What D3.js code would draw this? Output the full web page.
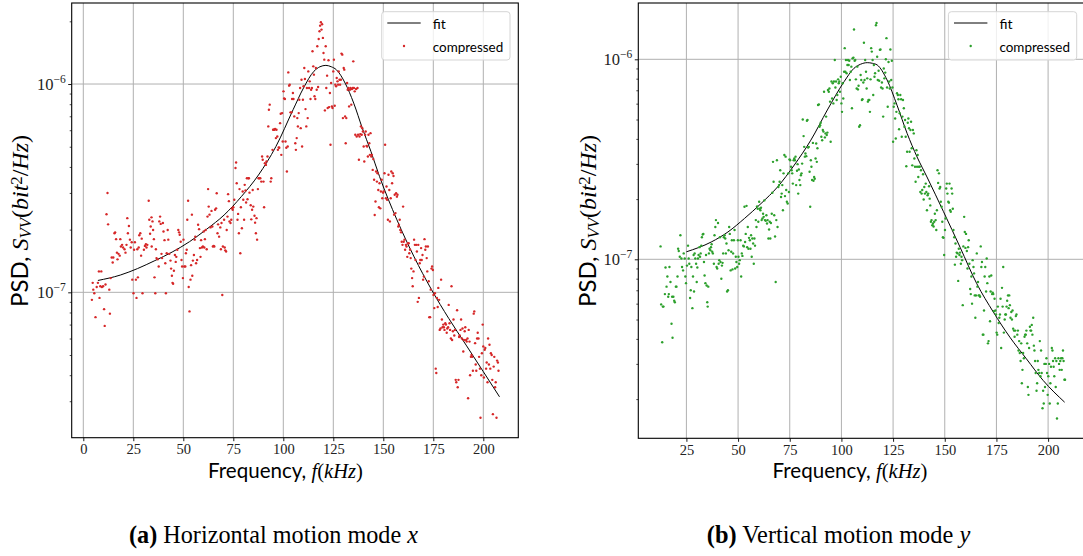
<!DOCTYPE html>
<html><head><meta charset="utf-8">
<script src="https://cdn.jsdelivr.net/npm/d3@7"></script>
<style>body{margin:0;background:#fff}svg{display:block}</style>
</head><body>
<svg id="c" width="1083" height="556"></svg>
<script>
// ---------- DATA (frequency in kHz, PSD in units of 1e-7 bit^2/Hz) ----------
const horizCompressed = [
[4.3,0.92],[4.7,1.11],[5.0,1.03],[5.5,0.99],[6.1,0.76],[6.7,1.06],[7.3,1.11],[7.8,1.26],[8.1,0.94],[8.5,1.07],[9.0,1.26],[9.3,1.06],[9.9,1.07],[10.4,0.83],[10.7,0.69],[11.1,1.09],[11.6,2.37],[12.1,3.00],[12.4,2.12],[13.0,1.03],[13.3,0.79],[13.7,1.17],[14.2,1.47],[14.7,1.39],[15.0,1.47],[15.6,1.92],[15.9,1.94],[16.4,1.80],[16.8,1.55],[17.1,1.44],[17.6,1.53],[18.2,1.50],[18.5,1.80],[18.8,1.66],[19.4,1.69],[19.9,1.64],[20.6,1.61],[21.1,1.55],[21.6,1.69],[22.0,2.27],[22.3,1.92],[22.8,2.08],[23.3,1.79],[23.7,1.64],[24.2,1.74],[24.5,1.15],[25.1,0.99],[25.4,1.60],[25.8,1.74],[26.3,1.15],[26.6,0.94],[27.0,1.61],[27.3,1.18],[27.7,1.64],[28.0,1.88],[28.5,1.92],[28.9,1.50],[29.2,1.81],[29.6,0.99],[30.3,1.60],[30.8,1.67],[31.3,1.70],[31.6,1.64],[32.0,1.69],[32.7,2.75],[33.0,2.23],[33.4,1.91],[33.7,2.07],[34.1,2.29],[34.2,1.66],[34.6,2.19],[34.9,1.99],[35.3,1.80],[35.6,1.18],[36.0,0.99],[36.3,1.61],[36.6,1.46],[37.2,1.44],[37.7,1.33],[38.0,2.19],[38.4,2.31],[38.7,2.13],[39.1,1.53],[39.4,1.46],[39.8,2.15],[40.1,1.96],
[40.6,1.78],[41.0,1.38],[41.3,0.99],[41.7,1.54],[42.2,1.99],[42.5,1.79],[43.0,1.53],[43.6,1.42],[43.9,1.30],[44.3,1.20],[44.6,1.11],[44.9,1.10],[45.3,1.27],[45.8,1.51],[46.2,1.40],[46.5,1.48],[47.0,1.60],[47.5,1.99],[47.9,1.94],[48.2,1.89],[48.7,1.75],[49.1,1.43],[49.4,1.33],[49.8,1.17],[50.1,1.79],[50.5,1.33],[51.0,1.33],[51.3,1.54],[51.7,1.60],[52.0,2.23],[52.4,2.75],[52.7,1.06],[53.1,0.81],[53.6,1.15],[53.9,1.35],[54.3,2.36],[54.5,1.20],[54.8,1.42],[55.3,1.51],[55.7,1.79],[56.0,1.85],[56.4,1.38],[56.9,1.43],[57.4,2.11],[57.9,2.01],[58.3,1.63],[58.6,1.48],[58.9,1.78],[59.3,1.64],[59.8,1.66],[60.2,1.96],[60.5,1.64],[60.8,1.80],[61.2,1.99],[61.7,1.61],
[62.1,2.31],[62.4,3.13],[62.7,2.58],[63.1,2.36],[63.6,2.05],[64.1,2.46],[64.5,2.07],[64.8,1.66],[65.2,1.67],[65.5,1.66],[65.9,2.49],[66.4,2.53],[66.7,2.99],[67.1,1.92],[67.4,2.12],[67.9,1.85],[68.5,2.05],[68.8,1.61],[69.1,2.15],[69.5,0.97],[69.8,1.66],[70.4,2.23],[70.7,1.64],[71.0,1.59],[71.4,1.57],[71.7,1.99],[72.1,2.31],[72.4,2.96],[72.8,2.74],[73.1,2.19],[73.6,2.15],[74.0,2.23],[74.3,2.53],[74.7,2.49],[75.0,2.56],[75.5,2.78],[76.1,3.95],[76.4,4.20],[76.7,3.34],[77.1,2.23],[77.4,2.38],[77.8,1.92],[78.1,3.13],[78.5,1.54],[78.8,2.56],
[79.3,2.03],[79.7,3.05],[80.0,2.78],[80.4,2.23],[80.7,3.28],[81.1,3.08],[81.4,2.70],[81.8,3.53],[82.1,2.80],[82.5,3.53],[82.8,3.53],[83.1,3.01],[83.7,2.62],[84.0,2.24],[84.4,2.49],[84.7,3.10],[85.0,2.58],[85.6,2.33],[85.9,2.16],[86.3,1.92],[86.6,2.27],[86.9,1.79],[87.3,3.13],[87.6,3.53],[88.0,3.53],[88.5,3.53],[89.0,3.40],[89.4,4.49],[89.7,4.33],[90.1,3.40],[90.4,2.56],[90.8,4.17],[91.3,4.09],[91.6,4.25],[92.1,4.49],[92.5,6.26],[92.8,7.53],[93.2,7.96],[93.7,3.40],[94.0,3.53],[94.6,4.83],[94.9,6.03],[95.2,6.03],[95.6,6.03],[95.9,6.08],[96.3,5.50],
[96.6,6.03],[97.0,5.60],[97.3,4.83],[97.7,4.96],[98.0,4.94],[98.4,6.49],[98.7,7.20],[99.0,4.57],[99.4,7.25],[99.7,5.30],[100.1,9.22],[100.4,8.53],[100.8,8.47],[101.1,5.30],[101.5,4.94],[101.8,3.80],[102.2,5.01],[102.5,11.37],[102.9,9.82],[103.2,9.92],[103.6,7.31],[104.1,7.31],[104.4,8.47],[104.8,9.05],[105.1,8.47],[105.5,6.99],[106.0,5.20],[106.3,4.83],[106.7,5.50],[107.0,6.86],[107.3,6.26],[107.7,7.25],[108.0,8.41],[108.4,9.57],[108.7,6.14],[109.1,10.49],[109.4,5.01],[109.8,8.41],[110.1,9.75],[110.5,11.94],[110.8,10.57],[111.1,7.58],[111.5,6.26],[111.8,9.57],[112.2,6.86],[112.5,11.50],[112.9,9.57],[113.2,10.30],[113.6,8.47],
[113.9,9.39],[114.3,9.57],[114.6,14.36],[115.0,12.16],[115.3,11.09],[115.6,8.73],[116.0,8.47],[116.3,11.94],[116.7,9.39],[117.0,15.18],[117.4,9.67],[117.7,16.46],[118.1,17.92],[118.4,19.07],[118.8,19.80],[119.1,18.25],[119.4,19.36],[119.8,16.65],[120.1,14.09],[120.5,13.09],[120.8,7.47],[121.2,15.18],[121.5,9.57],[121.9,10.97],[122.2,7.67],[122.6,13.00],[122.9,7.75],[123.3,9.05],[123.6,5.11],[123.9,10.11],[124.3,7.81],[124.6,7.67],[125.0,11.50],[125.3,13.09],[125.7,7.87],[126.0,9.93],[126.4,9.75],[126.7,10.69],[127.1,10.30],[127.4,9.93],[127.7,11.50],[128.1,10.49],[128.4,9.93],[128.8,10.49],[129.1,14.0],[129.5,13.84],[129.8,6.86],[130.2,11.94],[130.5,11.72],[130.9,6.99],
[131.2,5.20],[131.5,6.86],[131.9,10.11],[132.2,9.39],[132.6,9.57],[132.9,7.81],[133.3,9.39],[133.6,9.57],[134.0,7.96],[134.3,9.46],[134.7,9.57],[135.0,12.85],[135.3,9.57],[135.7,9.22],[136.0,5.71],[136.4,9.46],[136.7,5.60],[137.1,9.57],[137.4,5.71],[137.8,4.33],[138.1,5.60],[138.5,5.75],[138.8,6.26],[139.2,5.71],[139.5,6.14],[139.8,5.92],[140.2,5.01],[140.5,4.25],[140.9,5.71],[141.2,5.92],[141.6,5.05],[141.9,5.01],[142.3,4.49],[142.6,5.71],[143.0,5.20],[143.3,4.57],[143.6,5.81],[144.0,4.49],[144.3,4.57],[144.7,3.87],[145.0,4.36],[145.4,3.47],[145.7,2.35],[146.1,2.73],[146.4,3.80],[146.8,3.40],[147.1,3.73],[147.5,3.10],[147.8,2.56],[148.1,3.34],
[148.5,2.53],[148.8,3.05],[149.2,3.47],[149.5,2.83],[149.9,3.01],[150.2,3.05],[150.6,3.73],[150.9,5.11],[151.3,2.83],[151.6,3.22],[151.9,2.78],[152.3,2.23],[152.6,3.67],[153.0,3.10],[153.3,2.19],[153.7,2.83],[154.0,3.80],[154.4,3.34],[154.7,3.73],[155.1,3.62],[155.4,2.36],[155.7,2.94],[156.1,2.40],[156.4,2.99],[156.8,2.88],[157.1,2.94],[157.5,2.07],[157.8,2.11],[158.2,2.23],[158.5,1.99],[158.9,1.94],[159.2,1.75],[159.6,1.69],[159.9,2.58],[160.2,1.75],[160.6,1.79],[160.9,1.60],[161.3,1.69],[161.6,1.66],[162.0,1.48],[162.3,1.72],[162.7,1.72],[163.0,1.54],[163.4,1.60],[163.7,1.46],[164.0,1.30],[164.4,1.17],[164.7,1.07],[165.1,1.26],[165.4,1.79],
[165.8,1.69],[166.1,1.43],[166.5,1.69],[166.8,1.57],[167.2,0.90],[167.5,1.69],[167.8,0.94],[168.2,1.38],[168.5,1.43],[168.9,1.63],[169.2,1.43],[169.6,1.51],[169.9,1.15],[170.3,1.19],[170.6,1.80],[171.0,1.60],[171.3,1.66],[171.7,1.46],[172.0,1.26],[172.3,1.66],[172.7,1.13],[173.0,0.76],[173.4,0.76],[173.7,1.03],[174.1,1.30],[174.4,1.33],[174.8,1.28],[175.1,0.97],[175.5,0.84],[175.8,0.99],[176.2,0.43],[176.5,0.41],[176.8,0.94],[177.2,0.85],[177.5,1.05],[177.9,0.92],[178.2,0.66],[178.6,0.67],[178.9,1.15],[179.3,0.74],[179.6,0.68],[180.0,0.70],[180.3,0.68],[180.6,0.66],[181.0,0.71],[181.3,0.70],[181.7,0.64],[182.0,0.67],[182.4,0.68],[182.7,0.87],
[183.1,0.71],[183.4,0.66],[183.8,0.60],[184.1,1.07],[184.4,0.59],[184.8,0.65],[185.1,0.74],[185.5,0.62],[185.8,0.66],[186.2,0.38],[186.5,0.37],[186.9,0.82],[187.2,0.35],[187.6,0.38],[187.9,0.61],[188.2,0.62],[188.6,0.66],[188.9,0.74],[189.3,0.60],[189.6,0.67],[190.0,0.52],[190.3,0.59],[190.7,0.65],[191.0,0.68],[191.4,0.59],[191.7,0.58],[192.1,0.60],[192.4,0.31],[192.7,0.66],[193.1,0.58],[193.4,0.40],[193.8,0.49],[194.1,0.50],[194.5,0.49],[194.8,0.42],[195.2,0.79],[195.5,0.81],[195.9,0.57],[196.2,0.45],[196.5,0.42],[196.9,0.60],[197.2,0.64],[197.6,0.60],[197.9,0.49],[198.3,0.43],[198.6,0.25],[199.0,0.40],[199.3,0.51],[199.7,0.70],[200.0,0.55],
[200.3,0.39],[200.7,0.53],[201.0,0.54],[201.4,0.43],[201.7,0.46],[202.1,0.37],[202.4,0.60],[202.8,0.45],[203.1,0.56],[203.5,0.43],[203.8,0.51],[204.2,0.50],[204.5,0.38],[204.8,0.26],[205.2,0.44],[205.5,0.49],[205.9,0.35],[206.2,0.37],[206.6,0.25],[206.9,0.47],[207.3,0.46],[207.6,0.42]
];
const horizFit = [
[7.3,1.14],[18.5,1.21],[27.1,1.30],[35.8,1.42],[44.4,1.56],[53.1,1.75],[61.7,2.01],[70.4,2.35],[79.0,2.88],[87.6,3.66],[96.3,5.01],[104.9,7.53],[110.1,9.57],[115.3,11.51],[118.3,12.1],[121.3,12.29],[124.0,12.1],[126.5,11.72],[130.9,10.11],[135.2,8.10],[139.5,6.14],[143.8,4.75],[148.1,3.60],[156.8,2.23],[165.4,1.48],[174.1,1.03],[182.7,0.75],[191.4,0.558],[200.0,0.416],[208.1,0.315]
];
const vertCompressed = [
[12.5,1.16],[12.8,0.595],[13.3,0.385],[13.6,0.58],[13.9,0.58],[14.6,0.67],[14.9,0.91],[15.4,0.73],[15.8,0.82],[16.2,0.65],[16.5,0.67],[16.8,0.915],[17.3,0.77],[17.8,0.476],[18.1,0.65],[18.3,0.405],[18.7,0.65],[19.1,0.62],[19.4,0.61],[19.9,0.73],[20.2,0.73],[20.7,0.82],[21.0,1.13],[21.3,1.10],[21.8,1.03],[22.1,1.32],[22.6,1.01],[22.9,0.915],[23.4,0.88],[23.7,1.07],[24.2,1.01],[24.5,0.82],[24.8,0.76],[25.3,0.93],[25.8,1.17],[26.1,1.01],[26.4,0.95],[26.8,0.64],[27.1,0.70],[27.4,0.915],[27.9,0.57],[28.2,0.82],[28.5,1.05],[28.7,0.69],[29.0,1.07],[29.3,1.01],
[29.7,0.95],[30.0,0.77],[30.3,0.91],[30.6,1.01],[30.9,1.05],[31.3,1.15],[31.6,1.03],[31.9,1.07],[32.2,1.17],[32.5,1.29],[32.9,1.33],[33.2,1.34],[33.5,0.97],[33.8,0.83],[34.2,0.76],[34.5,1.05],[34.8,0.74],[35.1,0.61],[35.3,0.58],[35.6,0.73],[35.9,1.07],[36.2,1.13],[36.6,1.11],[36.9,1.15],[37.2,1.19],[37.5,1.09],[37.8,1.07],[38.3,0.95],[38.6,1.32],[39.0,1.45],[39.3,1.57],[39.6,0.915],[39.9,0.90],[40.3,1.52],[40.6,0.95],[40.9,0.99],[41.2,1.29],[41.5,0.97],[41.9,0.80],[42.2,0.93],[42.5,0.96],[42.8,1.07],[43.1,1.29],[43.5,1.32],[43.8,1.27],[44.1,1.07],[44.4,1.20],[44.7,0.69],[45.1,0.70],[45.4,1.11],
[45.7,1.45],[46.0,1.34],[46.4,0.88],[46.7,1.09],[47.0,1.245],[47.3,0.89],[47.6,1.07],[48.0,1.245],[48.3,1.40],[48.6,0.90],[48.9,1.03],[49.2,0.97],[49.6,0.915],[49.9,1.245],[50.2,1.03],[50.5,0.95],[50.8,0.99],[51.2,1.245],[51.5,0.82],[51.8,1.07],[52.1,1.04],[52.5,1.17],[52.8,1.16],[53.1,1.83],[53.4,1.22],[53.7,1.34],[54.1,1.85],[54.4,1.15],[54.7,1.45],[55.0,1.13],[55.3,1.28],[55.7,1.245],[56.0,1.13],[56.3,1.32],[56.6,1.03],[56.9,1.27],[57.3,1.20],[57.6,0.95],[57.9,1.27],[58.2,1.17],[58.6,1.57],[58.9,1.45],[59.2,1.84],[59.5,1.79],[59.8,1.54],[60.2,1.94],[60.5,1.79],[60.8,1.76],[61.1,1.81],
[61.4,1.57],[61.8,1.60],[62.1,1.69],[62.4,1.63],[62.7,1.97],[63.0,1.57],[63.4,1.56],[63.7,1.66],[64.0,1.51],[64.3,1.57],[64.7,1.27],[65.0,1.41],[65.3,1.54],[65.6,1.27],[65.9,1.52],[66.3,1.69],[66.6,2.15],[66.9,3.07],[67.2,2.44],[67.5,1.66],[67.9,1.30],[68.2,0.77],[68.5,1.57],[68.8,3.13],[69.1,1.45],[69.5,2.30],[69.8,2.35],[70.1,2.44],[70.4,2.79],[70.8,2.05],[71.1,2.13],[71.4,2.35],[71.7,1.76],[72.0,2.69],[72.4,3.32],[72.7,2.07],[73.0,3.26],[73.3,2.22],[73.6,1.94],[74.0,1.90],[74.3,2.69],[74.6,2.17],[74.9,3.16],[75.2,3.13],[75.6,2.90],[75.9,2.79],[76.2,2.69],[76.5,2.39],[76.9,3.13],[77.2,3.19],
[77.5,3.13],[77.8,3.26],[78.1,2.35],[78.5,2.77],[78.8,2.99],[79.1,2.13],[79.4,2.81],[79.7,2.49],[80.1,2.35],[80.4,2.63],[80.7,2.69],[81.0,3.01],[81.3,5.00],[81.7,4.13],[82.0,3.65],[82.3,3.26],[82.6,3.38],[83.0,3.28],[83.3,4.93],[83.6,4.97],[83.9,3.62],[84.2,3.65],[84.6,2.74],[84.9,1.83],[85.2,3.13],[85.5,2.90],[85.8,2.49],[86.2,3.82],[86.5,2.47],[86.8,2.58],[87.1,2.53],[87.5,3.19],[87.8,3.79],[88.1,3.07],[88.4,3.59],[88.7,5.91],[89.1,5.95],[89.4,4.60],[89.7,4.68],[90.0,4.82],[90.3,4.10],[90.7,3.94],[91.0,4.43],[91.3,4.35],[91.6,6.88],[92.0,4.07],[92.3,4.26],[92.6,5.17],[92.9,4.18],[93.2,4.30],
[93.5,7.02],[93.9,6.88],[94.2,7.14],[94.5,6.14],[94.8,3.87],[95.2,7.74],[95.5,6.37],[95.8,7.59],[96.1,6.02],[96.4,7.74],[96.8,9.92],[97.1,7.23],[97.4,7.74],[97.7,6.26],[98.0,6.63],[98.4,7.94],[98.7,7.59],[99.0,7.74],[99.3,6.88],[99.7,8.18],[100.0,6.02],[100.3,5.46],[100.6,7.59],[100.9,6.37],[101.3,8.67],[101.6,11.37],[101.9,8.67],[102.2,9.92],[102.5,8.51],[102.9,9.37],[103.2,9.92],[103.5,9.37],[103.8,9.84],[104.1,7.88],[104.5,8.67],[104.8,9.19],[105.1,5.69],[105.4,10.11],[105.8,10.2],[106.1,14.1],[106.4,9.84],[106.7,9.92],[107.0,7.94],[107.4,7.14],[107.7,9.19],[108.0,7.07],[108.3,7.37],[108.6,4.60],[109.0,4.68],[109.3,8.35],
[109.6,7.88],[109.9,6.26],[110.2,6.31],[110.6,7.66],[110.9,12.09],[111.2,7.88],[111.5,9.92],[111.9,8.67],[112.2,7.14],[112.5,8.03],[112.8,6.14],[113.1,6.26],[113.5,6.26],[113.8,5.46],[114.1,7.94],[114.4,11.37],[114.7,10.93],[115.1,9.92],[115.4,6.63],[115.7,9.37],[116.0,8.18],[116.3,8.51],[116.7,14.8],[117.0,15.2],[117.3,10.3],[117.6,7.88],[118.0,8.76],[118.3,7.81],[118.6,11.15],[118.9,11.2],[119.2,7.23],[119.6,7.66],[119.9,7.14],[120.2,5.17],[120.5,9.0],[120.8,8.03],[121.2,8.58],[121.5,10.0],[121.8,12.76],[122.1,7.23],[122.4,5.79],[122.8,9.7],[123.1,7.74],[123.4,7.14],[123.7,11.2],[124.1,7.88],[124.4,9.84],[124.7,7.23],[125.0,3.87],[125.3,5.79],
[125.7,6.02],[126.0,5.06],[126.3,4.02],[126.6,5.46],[126.9,6.76],[127.3,6.63],[127.6,6.31],[127.9,4.47],[128.2,5.37],[128.5,6.63],[128.9,6.31],[129.2,4.10],[129.5,5.17],[129.8,6.26],[130.2,5.69],[130.5,4.60],[130.8,4.97],[131.1,4.10],[131.4,2.92],[131.8,3.45],[132.1,4.82],[132.4,5.06],[132.7,4.52],[133.0,3.45],[133.4,4.43],[133.7,4.87],[134.0,3.59],[134.3,2.95],[134.6,4.43],[135.0,4.26],[135.3,3.19],[135.6,2.90],[135.9,2.44],[136.3,3.51],[136.6,2.90],[136.9,3.32],[137.2,2.58],[137.5,2.90],[137.9,2.90],[138.2,2.17],[138.5,2.79],[138.8,2.13],[139.1,2.22],[139.5,2.66],[139.8,1.99],[140.1,2.30],[140.4,2.13],[140.8,2.39],[141.1,2.17],[141.4,1.76],
[141.7,2.09],[142.0,2.13],[142.4,2.32],[142.7,2.01],[143.0,1.86],[143.3,1.54],[143.6,1.57],[144.0,1.48],[144.3,1.51],[144.6,1.46],[144.9,1.54],[145.2,1.69],[145.6,1.57],[145.9,1.40],[146.2,1.76],[146.5,2.79],[146.8,2.41],[147.2,2.69],[147.5,2.26],[147.8,2.30],[148.1,1.94],[148.5,1.83],[148.8,1.54],[149.1,1.29],[149.4,1.28],[149.7,1.05],[150.1,1.40],[150.4,1.60],[150.7,2.26],[151.0,2.39],[151.3,2.13],[151.7,1.94],[152.0,1.92],[152.3,2.39],[152.6,1.76],[152.9,1.73],[153.3,2.26],[153.6,2.13],[153.9,1.79],[154.2,1.40],[154.6,1.29],[154.9,0.94],[155.2,1.20],[155.5,1.03],[155.8,1.08],[156.2,1.07],[156.5,0.78],[156.8,1.13],[157.1,1.05],[157.4,1.08],
[157.8,0.95],[158.1,1.03],[158.4,0.99],[158.7,0.59],[159.0,1.16],[159.4,1.63],[159.7,1.37],[160.0,1.14],[160.3,1.34],[160.7,1.10],[161.0,0.90],[161.3,1.15],[161.6,1.245],[161.9,0.95],[162.3,0.71],[162.6,0.67],[162.9,0.82],[163.2,0.60],[163.5,0.99],[163.9,0.915],[164.2,0.85],[164.5,0.66],[164.8,0.51],[165.1,0.66],[165.5,1.07],[165.8,0.73],[166.1,0.77],[166.4,0.66],[166.8,0.66],[167.1,0.65],[167.4,1.16],[167.7,0.915],[168.0,0.97],[168.4,0.42],[168.7,0.42],[169.0,0.555],[169.3,0.82],[169.6,0.915],[170.0,0.69],[170.3,1.01],[170.6,0.76],[170.9,0.38],[171.2,0.39],[171.6,0.82],[171.9,0.49],[172.2,0.69],[172.5,0.83],[172.9,0.67],[173.2,0.68],[173.5,0.67],
[173.8,0.55],[174.1,0.635],[174.5,0.555],[174.8,0.53],[175.1,0.43],[175.4,0.42],[175.7,0.58],[176.1,0.48],[176.4,0.51],[176.7,0.53],[177.0,0.635],[177.3,0.36],[177.7,0.72],[178.0,0.58],[178.3,0.915],[178.6,0.43],[179.0,0.50],[179.3,0.53],[179.6,0.53],[179.9,0.58],[180.2,0.62],[180.6,0.66],[180.9,0.57],[181.2,0.66],[181.5,0.59],[181.8,0.51],[182.2,0.545],[182.5,0.50],[182.8,0.555],[183.1,0.45],[183.5,0.44],[183.8,0.41],[184.1,0.44],[184.4,0.52],[184.7,0.53],[185.1,0.42],[185.4,0.44],[185.7,0.35],[186.0,0.39],[186.3,0.34],[186.7,0.31],[187.0,0.38],[187.3,0.24],[187.6,0.28],[187.9,0.34],[188.3,0.32],[188.6,0.41],[188.9,0.42],[189.2,0.42],[189.5,0.44],
[189.9,0.38],[190.2,0.23],[190.5,0.21],[190.8,0.36],[191.2,0.46],[191.5,0.44],[191.8,0.44],[192.1,0.47],[192.4,0.42],[192.8,0.51],[193.1,0.37],[193.4,0.35],[193.7,0.31],[194.0,0.27],[194.4,0.22],[194.7,0.24],[195.0,0.31],[195.3,0.28],[195.7,0.27],[196.0,0.39],[196.3,0.26],[196.6,0.35],[196.9,0.27],[197.3,0.18],[197.6,0.22],[197.9,0.19],[198.2,0.30],[198.5,0.23],[198.9,0.30],[199.2,0.32],[199.5,0.27],[199.8,0.21],[200.1,0.26],[200.5,0.30],[200.8,0.19],[201.1,0.24],[201.4,0.29],[201.8,0.36],[202.1,0.35],[202.4,0.31],[202.7,0.29],[203.0,0.26],[203.4,0.32],[203.7,0.23],[204.0,0.31],[204.3,0.16],[204.7,0.19],[205.0,0.32],[205.3,0.30],[205.6,0.28],[205.9,0.31],[206.3,0.32],[206.6,0.28],[206.9,0.32],[207.2,0.35],[207.5,0.31],[207.9,0.25],[208.2,0.25]
];
const vertFit = [
[25.0,1.09],[37.0,1.22],[45.1,1.37],[53.1,1.60],[61.1,1.90],[69.1,2.30],[77.2,2.96],[85.2,3.94],[93.2,5.58],[101.3,7.73],[106.1,9.02],[109.3,9.45],[112.5,9.62],[115.0,9.55],[117.3,9.37],[122.1,7.88],[126.9,5.90],[131.8,4.26],[136.6,3.25],[141.4,2.58],[149.4,1.73],[157.4,1.15],[165.5,0.755],[173.5,0.545],[181.5,0.408],[189.5,0.318],[197.6,0.248],[208.0,0.193]
];
const psdUnit = 1e-7;
const xTicksA = [0,25,50,75,100,125,150,175,200];
const xTicksB = [25,50,75,100,125,150,175,200];
const yMajorExps = [-8,-7,-6,-5];
const legendLabels = ["fit","compressed"];
const captionTags = ["(a)","(b)"];
const captionTexts = [" Horizontal motion mode ", " Vertical motion mode "];
const captionVars = ["x","y"];

// ---------- DRAWING ----------
const svg = d3.select("#c");
const SANS = "Lato, 'Open Sans', sans-serif";
const SERIF = "'Liberation Serif', 'DejaVu Serif', serif";
const defs = svg.append("defs");

function fitWidth(sel, target){
  const w = sel.node().getComputedTextLength();
  const fs = parseFloat(sel.attr("font-size"));
  if (w > 0) sel.attr("font-size", (fs * target / w).toFixed(2));
}

function panel(cfg){
  const g = svg.append("g");
  const x = d3.scaleLinear().domain(cfg.xDomain).range([cfg.left, cfg.right]);
  const y = d3.scaleLog().domain(cfg.yDomain).range([cfg.bottom, cfg.top]);
  defs.append("clipPath").attr("id", "clip" + cfg.key)
    .append("rect").attr("x", cfg.left).attr("y", cfg.top)
    .attr("width", cfg.right - cfg.left).attr("height", cfg.bottom - cfg.top);

  const majorY = yMajorExps.map(e => Math.pow(10, e)).filter(v => v >= cfg.yDomain[0] && v <= cfg.yDomain[1]);
  const minorY = [];
  yMajorExps.forEach(e => { for (let k = 2; k <= 9; k++){ const v = k * Math.pow(10, e); if (v >= cfg.yDomain[0] && v <= cfg.yDomain[1]) minorY.push(v); } });

  // grid
  g.append("g").selectAll("line").data(cfg.xTicks).join("line")
    .attr("x1", d => x(d)).attr("x2", d => x(d)).attr("y1", cfg.top).attr("y2", cfg.bottom)
    .attr("stroke", "#b0b0b0").attr("stroke-width", 1);
  g.append("g").selectAll("line").data(majorY).join("line")
    .attr("x1", cfg.left).attr("x2", cfg.right).attr("y1", d => y(d)).attr("y2", d => y(d))
    .attr("stroke", "#b0b0b0").attr("stroke-width", 1);

  const clipped = g.append("g").attr("clip-path", `url(#clip${cfg.key})`);
  const line = d3.line().x(d => x(d[0])).y(d => y(d[1] * psdUnit)).curve(d3.curveMonotoneX);
  clipped.append("path").datum(cfg.fit).attr("d", line)
    .attr("fill", "none").attr("stroke", "#000").attr("stroke-width", 1);
  clipped.append("g").selectAll("circle").data(cfg.points).join("circle")
    .attr("cx", d => x(d[0])).attr("cy", d => y(d[1] * psdUnit)).attr("r", 1.2)
    .attr("fill", cfg.color);

  // x axis
  const xa = g.append("g").attr("transform", `translate(0,${cfg.bottom})`)
    .call(d3.axisBottom(x).tickValues(cfg.xTicks).tickSize(3.5).tickPadding(3).tickFormat(d3.format("d")));
  xa.select(".domain").remove();
  xa.selectAll("line").attr("stroke", "#000").attr("stroke-width", 0.9);
  xa.selectAll("text").attr("font-family", SERIF).attr("font-size", 14.5).attr("fill", "#222");

  // y axis major & minor ticks
  const ya = g.append("g").attr("transform", `translate(${cfg.left},0)`)
    .call(d3.axisLeft(y).tickValues(majorY).tickSize(3.5).tickFormat(""));
  ya.select(".domain").remove();
  ya.selectAll("line").attr("stroke", "#000").attr("stroke-width", 0.9);
  const ym = g.append("g").attr("transform", `translate(${cfg.left},0)`)
    .call(d3.axisLeft(y).tickValues(minorY).tickSize(2).tickFormat(""));
  ym.select(".domain").remove();
  ym.selectAll("line").attr("stroke", "#000").attr("stroke-width", 0.7);

  // y tick labels 10^n
  majorY.forEach(v => {
    const e = Math.round(Math.log10(v));
    const t = g.append("text").attr("x", cfg.left - 6).attr("y", y(v) + 6)
      .attr("text-anchor", "end").attr("font-family", SERIF).attr("font-size", 16.5).attr("fill", "#222");
    t.append("tspan").text("10");
    t.append("tspan").attr("dy", -7).attr("font-size", 11.5).text("\u2212" + Math.abs(e));
  });

  // spines
  g.append("rect").attr("x", cfg.left).attr("y", cfg.top)
    .attr("width", cfg.right - cfg.left).attr("height", cfg.bottom - cfg.top)
    .attr("fill", "none").attr("stroke", "#000").attr("stroke-width", 1.1);

  // x label
  const xl = g.append("text").attr("x", cfg.xLabelX).attr("y", cfg.xLabelY)
    .attr("text-anchor", "middle").attr("font-size", 17).attr("fill", "#000");
  xl.append("tspan").attr("font-family", SANS).text("Frequency, ");
  xl.append("tspan").attr("font-family", SERIF).attr("font-style", "italic").text("f");
  xl.append("tspan").attr("font-family", SERIF).text("(");
  xl.append("tspan").attr("font-family", SERIF).attr("font-style", "italic").text("kHz");
  xl.append("tspan").attr("font-family", SERIF).text(")");
  fitWidth(xl, 155);

  // y label
  const yl = g.append("text")
    .attr("transform", `translate(${cfg.yLabelX},${cfg.yLabelY}) rotate(-90)`)
    .attr("text-anchor", "middle").attr("font-size", 17).attr("fill", "#000");
  yl.append("tspan").attr("font-family", SANS).text("PSD, ");
  yl.append("tspan").attr("font-family", SERIF).attr("font-style", "italic").text("S");
  yl.append("tspan").attr("font-family", SERIF).attr("font-style", "italic").attr("font-size", "0.7em").attr("dy", 3).text("VV");
  yl.append("tspan").attr("font-family", SERIF).attr("dy", -3).text("(");
  yl.append("tspan").attr("font-family", SERIF).attr("font-style", "italic").text("bit");
  yl.append("tspan").attr("font-family", SERIF).attr("font-size", "0.7em").attr("dy", -6).text("2");
  yl.append("tspan").attr("font-family", SERIF).attr("dy", 6).text("/");
  yl.append("tspan").attr("font-family", SERIF).attr("font-style", "italic").text("Hz");
  yl.append("tspan").attr("font-family", SERIF).text(")");
  fitWidth(yl, 172);

  // legend
  const lg = g.append("g").attr("transform", `translate(${cfg.legendX},${cfg.top + 8.7})`);
  lg.append("rect").attr("x", 0).attr("y", 0).attr("width", 128.3).attr("height", 48.3)
    .attr("rx", 3).attr("fill", "#fff").attr("fill-opacity", 0.8)
    .attr("stroke", "#d5d5d5").attr("stroke-width", 1);
  lg.append("line").attr("x1", 5.6).attr("x2", 39).attr("y1", 11.3).attr("y2", 11.3)
    .attr("stroke", "#000").attr("stroke-width", 1);
  lg.append("circle").attr("cx", 22.3).attr("cy", 34.3).attr("r", 1.2).attr("fill", cfg.color);
  legendLabels.forEach((lab, i) => {
    const t = lg.append("text").attr("x", 51).attr("y", 17 + i * 23)
      .attr("font-family", SANS).attr("font-size", 14).attr("fill", "#000").text(lab);
    if (lab === "compressed") fitWidth(t, 70.6);
  });

  // caption
  const cp = g.append("text").attr("x", cfg.captionX).attr("y", 543)
    .attr("text-anchor", "middle").attr("font-family", SERIF).attr("font-size", 18).attr("fill", "#000");
  cp.append("tspan").attr("font-weight", "bold").text(cfg.captionTag);
  cp.append("tspan").text(cfg.captionText);
  cp.append("tspan").attr("font-style", "italic").text(cfg.captionVar);
  fitWidth(cp, cfg.captionW);
}

panel({
  key: "a", left: 71.7, right: 518.3, top: 3, bottom: 437.7,
  xDomain: [-5.8, 217.5], yDomain: [Math.pow(10, -7.698), Math.pow(10, -5.611)],
  xTicks: xTicksA, points: horizCompressed, fit: horizFit, color: "#d62728",
  xLabelX: 285.5, xLabelY: 477.5, yLabelX: 28, yLabelY: 221,
  legendX: 381.7, captionX: 273.5, captionW: 289,
  captionTag: captionTags[0], captionText: captionTexts[0], captionVar: captionVars[0]
});
panel({
  key: "b", left: 638.3, right: 1085.3, top: 3, bottom: 438.3,
  xDomain: [1.73, 218.0], yDomain: [Math.pow(10, -7.895), Math.pow(10, -5.7185)],
  xTicks: xTicksB, points: vertCompressed, fit: vertFit, color: "#2ca02c",
  xLabelX: 850, xLabelY: 477.5, yLabelX: 596, yLabelY: 221,
  legendX: 948.4, captionX: 838.5, captionW: 263.5,
  captionTag: captionTags[1], captionText: captionTexts[1], captionVar: captionVars[1]
});
</script>
</body></html>
